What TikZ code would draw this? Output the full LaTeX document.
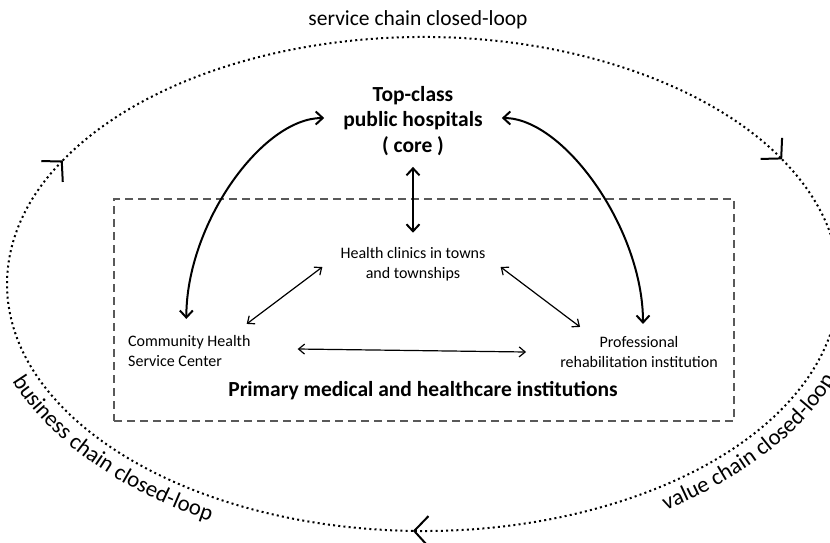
\documentclass[tikz,border=0pt]{standalone}
\usepackage{fontspec}
\setmainfont{Carlito}
\usetikzlibrary{arrows.meta,decorations.text,calc}

\newcommand\bigtxt{\fontsize{21.5}{25.5}\selectfont}
\newcommand\arctxt{\fontsize{22.8}{26}\selectfont}
\newcommand\smalltxt{\fontsize{16}{20.5}\selectfont}

\begin{document}
\begin{tikzpicture}[x=1pt,y=1pt,
  loopline/.style={line width=2pt, dash pattern=on 2pt off 3.2pt},
  looptip/.style={-{Straight Barb[length=14pt,width=30pt]}},
  label/.style={inner sep=0pt, text=black},
  frame/.style={draw=black!65, line width=1.4pt, dash pattern=on 8pt off 5pt},
  mainlink/.style={line width=2pt, {Straight Barb[length=7pt,width=13pt]}-{Straight Barb[length=7pt,width=13pt]}},
  sidelink/.style={line width=1.2pt, {Straight Barb[length=6pt,width=10pt]}-{Straight Barb[length=6pt,width=10pt]}},
]
\useasboundingbox (0,0) rectangle (830,-542);
\clip (0,0) rectangle (830,-542);

% centre of the closed loop
\coordinate (C) at (423,-284);

% the closed loop, drawn clockwise in three arcs, each ending in a barb
\draw[loopline, looptip] ($(C)+(150:416 and 247)$)
  arc[start angle=150, end angle=30.3, x radius=416, y radius=247];
\draw[loopline, looptip] ($(C)+(30.3:416 and 247)$)
  arc[start angle=30.3, end angle=-91.4, x radius=416, y radius=247];
\draw[loopline, looptip] ($(C)+(-91.4:416 and 247)$)
  arc[start angle=-91.4, end angle=-210, x radius=416, y radius=247];

% loop labels
\node[label, font=\bigtxt, anchor=base] (service) at (418,-25) {service chain closed-loop};
\path[decorate, decoration={text along path, text align=left,
    text={|\arctxt|business chain closed-loop}}]
  ($(C)+(201:440 and 271)$) arc[start angle=201, end angle=255, x radius=440, y radius=271];
\path[decorate, decoration={text along path, text align=left,
    text={|\arctxt|value chain closed-loop}}]
  ($(C)+(303.5:440 and 271)$) arc[start angle=303.5, end angle=359, x radius=440, y radius=271];

% primary-care frame
\node[frame, minimum width=620pt, minimum height=222pt, inner sep=0pt] (box) at (424,-310) {};

% institutions
\node[label, font=\bigtxt\bfseries, align=center] (top) at (413,-121)
  {Top-class\\public hospitals\\( core )};
\node[label, font=\smalltxt, align=center] (clinics) at (413,-264)
  {Health clinics in towns\\and townships};
\node[label, font=\smalltxt, align=left, anchor=west] (chsc) at (128,-351)
  {Community Health\\Service Center};
\node[label, font=\smalltxt, align=center] (prof) at (639,-352)
  {Professional\\rehabilitation institution};
\node[label, font=\bigtxt\bfseries] (primary) at (423,-391)
  {Primary medical and healthcare institutions};

% links
\draw[mainlink] ([shift={(-3,16)}]chsc.north)
  .. controls +(0,95) and +(-62,0) .. ([shift={(-19,3)}]top.west);
\draw[mainlink] ([shift={(4,12)}]prof.north)
  .. controls +(0,95) and +(62,0) .. ([shift={(19,3)}]top.east);
\draw[mainlink] ([yshift=-11pt]top.south) -- ([yshift=14pt]clinics.north);
\draw[sidelink] ([shift={(-18,-3)}]clinics.west) -- ([shift={(-4,11)}]chsc.north east);
\draw[sidelink] ([shift={(15,-3)}]clinics.east) -- ([shift={(20,9)}]prof.north west);
\draw[sidelink] ([shift={(47,2)}]chsc.east) -- ([shift={(-34,0)}]prof.west);
\end{tikzpicture}
\end{document}
